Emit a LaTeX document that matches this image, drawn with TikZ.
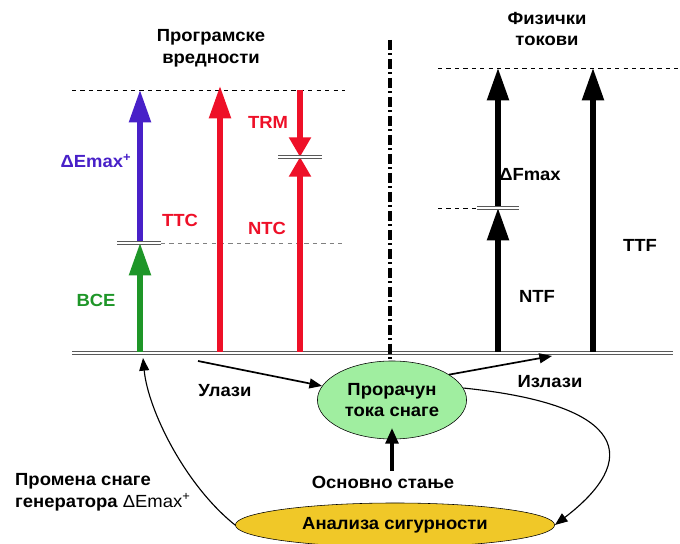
\documentclass[tikz,border=0pt]{standalone}
\usepackage{fontspec}
\setmainfont{Liberation Sans}
\usetikzlibrary{arrows.meta,shapes.geometric}
\definecolor{tred}{RGB}{238,16,40}
\definecolor{tblue}{RGB}{72,32,200}
\definecolor{tgreen}{RGB}{30,150,40}
\definecolor{flowfill}{RGB}{160,238,160}
\definecolor{secfill}{RGB}{240,200,40}
\begin{document}
\begin{tikzpicture}[x=0.025cm,y=-0.025cm,
  lbl/.style={font=\bfseries\fontsize{12.5}{15.5}\selectfont,xscale=1.05,align=center},
  bar/.style={draw=gray!70!black,double=white,double distance=1.3pt,line width=0.6pt},
  big/.style={-{Triangle[width=15pt,length=23pt]},line width=3.6pt},
  small/.style={-{Triangle[width=15pt,length=14pt]},line width=3.6pt},
  thin/.style={-{Triangle[width=7pt,length=9pt]},line width=1.2pt}]
\useasboundingbox (0,0) rectangle (680,544);
% axis and separator
\draw[bar] (72,353) -- (673,353);
\draw[line width=2.2pt,dash pattern=on 7pt off 2.5pt on 1.5pt off 2.5pt] (390,40) -- (390,362);
\draw[dashed,line width=0.7pt] (72,90) -- (345,90);
\draw[dashed,line width=0.7pt] (438,68) -- (680,68);
\draw[dashed,gray,line width=0.6pt] (161,243) -- (345,243);
\draw[dashed,line width=0.7pt] (438,208) -- (477,208);
% program values
\coordinate (g0) at (140,352);
\coordinate (gb) at (140,243);
\coordinate (gt) at (140,90);
\coordinate (t0) at (220,352);
\coordinate (tt) at (220,86);
\coordinate (n0) at (300,352);
\coordinate (nb) at (300,157);
\coordinate (nt) at (300,90);
\draw[big,tgreen] (g0) -- (gb);
\draw[big,tblue] (gb) -- (gt);
\draw[big,tred] (t0) -- (tt);
\draw[small,tred] (n0) -- (nb);
\draw[small,tred] (nt) -- (nb);
\draw[bar] (117,243) -- (161,243);
\draw[bar] (278,157) -- (322,157);
% physical flows
\coordinate (f0) at (498,352);
\coordinate (fb) at (498,208);
\coordinate (ft) at (498,68);
\coordinate (s0) at (593,352);
\coordinate (st) at (593,68);
\draw[big] (f0) -- (fb);
\draw[big] (fb) -- (ft);
\draw[big] (s0) -- (st);
\draw[bar] (477,208) -- (519,208);
% labels
\node[lbl] (prog) at (211,48) {Програмске\\вредности};
\node[lbl] (fiz) at (547,29) {Физички\\токови};
\node[lbl,text=tblue] (demax) at (96,161) {ΔEmax\textsuperscript{+}};
\node[lbl,text=tred] (ttc) at (180,220) {TTC};
\node[lbl,text=tred] (ntc) at (267,228) {NTC};
\node[lbl,text=tred] (trm) at (268,122) {TRM};
\node[lbl,text=tgreen] (bce) at (96,300) {BCE};
\node[lbl] (dfmax) at (530,175) {ΔFmax};
\node[lbl] (ntf) at (537,296) {NTF};
\node[lbl] (ttf) at (640,245) {TTF};
% load flow loop
\node[lbl,ellipse,draw,fill=flowfill,minimum width=3.55cm,minimum height=1.95cm,inner sep=0pt]
  (flow) at (392,400) {Прорачун\\тока снаге};
\node[lbl,ellipse,draw,fill=secfill,minimum width=7.6cm,minimum height=1.1cm,inner sep=0pt]
  (sec) at (395,525) {Анализа сигурности};
\node[lbl] (inp) at (225,391) {Улази};
\node[lbl] (outp) at (550,382) {Излази};
\node[lbl] (base) at (383,482) {Основно стање};
\node[lbl,anchor=west,align=left] (gen) at (10,492)
  {Промена снаге\\генератора {\mdseries ΔEmax\textsuperscript{+}}};
\coordinate (inL) at (198,361);
\coordinate (outR) at (552,356);
\coordinate (gin) at (143,358);
\draw[thin] (inL) -- (flow);
\draw[thin] (flow.25) -- (outR);
\draw[-{Triangle[width=9pt,length=11pt]},line width=2.4pt,shorten >=-8pt] (base.north -| flow.south) -- (flow.south);
\draw[thin,line width=0.8pt] (flow.10) .. controls (630,405) and (640,460) .. (sec.east);
\draw[thin,line width=0.8pt] (sec.west) .. controls (185,485) and (148,410) .. (gin);
\end{tikzpicture}
\end{document}
